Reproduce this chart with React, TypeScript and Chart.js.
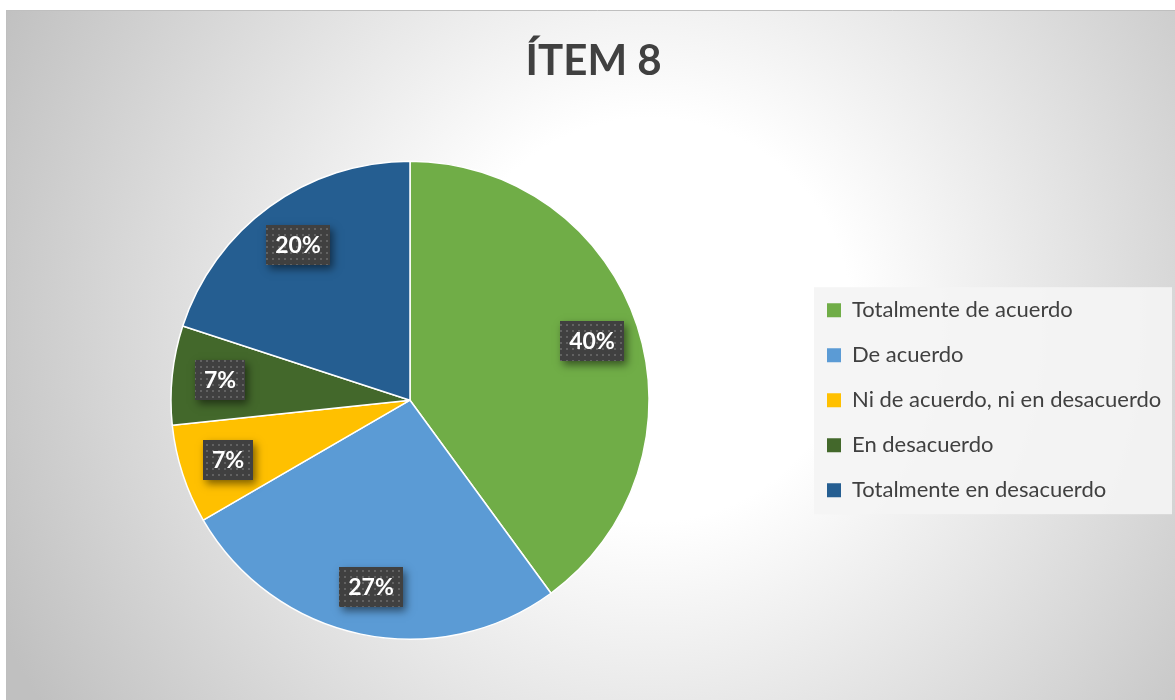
import React, { useEffect, useRef } from 'react';
import { Chart, registerables } from 'chart.js';

Chart.register(...registerables);

const chartTitle = 'ÍTEM 8';
const categories = [
  'Totalmente de acuerdo',
  'De acuerdo',
  'Ni de acuerdo, ni en desacuerdo',
  'En desacuerdo',
  'Totalmente en desacuerdo',
];
const percentValues = [40, 26.7, 6.7, 6.7, 20];
const sliceColors = ['#70AD47', '#5B9BD5', '#FFC000', '#43682B', '#255E91'];

const FONT = 'Lato, "Open Sans", sans-serif';
const CW = 1182;
const CH = 690;
const LEGEND_FS = 22;
const LEGEND_PAD = 23;
const LEGEND_BOX = 14;

function makePattern(ctx: CanvasRenderingContext2D) {
  const off = document.createElement('canvas');
  off.width = 6;
  off.height = 6;
  const o = off.getContext('2d')!;
  o.fillStyle = 'rgba(125,125,125,0.55)';
  o.fillRect(2, 2, 2, 2);
  return ctx.createPattern(off, 'repeat');
}

const bgPlugin = {
  id: 'bgPlugin',
  beforeDraw(chart: any) {
    const { ctx, width, height } = chart;
    ctx.save();
    const g = ctx.createRadialGradient(644, 310, 0, 644, 310, 720);
    g.addColorStop(0, '#ffffff');
    g.addColorStop(0.28, '#ffffff');
    g.addColorStop(1, '#c0c0c0');
    ctx.fillStyle = g;
    ctx.fillRect(0, 0, width, height);
    ctx.strokeStyle = '#bfbfbf';
    ctx.lineWidth = 1;
    ctx.beginPath();
    ctx.moveTo(0.5, height);
    ctx.lineTo(0.5, 0.5);
    ctx.lineTo(width, 0.5);
    ctx.stroke();
    const lg = chart.legend;
    if (lg) {
      const n = categories.length;
      const colH = n * (LEGEND_FS + LEGEND_PAD);
      const itemsTop = (lg.top + LEGEND_PAD + lg.bottom - colH) / 2;
      const x0 = lg.left + LEGEND_PAD - 13;
      const y0 = itemsTop - 12;
      const y1 = itemsTop + (n - 1) * (LEGEND_FS + LEGEND_PAD) + LEGEND_FS + 13;
      ctx.fillStyle = 'rgba(244,244,244,0.92)';
      ctx.fillRect(x0, y0, width - 16 - x0, y1 - y0);
    }
    ctx.restore();
  },
};

const labelPlugin = {
  id: 'sliceLabels',
  afterDatasetsDraw(chart: any) {
    const ctx: CanvasRenderingContext2D = chart.ctx;
    const meta = chart.getDatasetMeta(0);
    const data = chart.data.datasets[0].data as number[];
    const total = data.reduce((a, b) => a + b, 0);
    const pattern = makePattern(ctx);
    ctx.save();
    ctx.font = `bold 23px ${FONT}`;
    meta.data.forEach((arc: any, i: number) => {
      const p = arc.getProps(['x', 'y', 'startAngle', 'endAngle', 'outerRadius'], true);
      const mid = (p.startAngle + p.endAngle) / 2;
      const r = p.outerRadius * 0.8;
      const cx = p.x + Math.cos(mid) * r;
      const cy = p.y + Math.sin(mid) * r;
      const text = Math.round((data[i] / total) * 100) + '%';
      const tw = ctx.measureText(text).width;
      const bw = Math.round(tw + 18);
      const bh = 40;
      const bx = Math.round(cx - bw / 2);
      const by = Math.round(cy - bh / 2);
      ctx.save();
      ctx.shadowColor = 'rgba(0,0,0,0.5)';
      ctx.shadowBlur = 8;
      ctx.shadowOffsetX = 3;
      ctx.shadowOffsetY = 4;
      ctx.fillStyle = '#404040';
      ctx.fillRect(bx, by, bw, bh);
      ctx.restore();
      if (pattern) {
        ctx.fillStyle = pattern;
        ctx.fillRect(bx, by, bw, bh);
      }
      ctx.fillStyle = '#ffffff';
      ctx.textAlign = 'center';
      ctx.textBaseline = 'middle';
      ctx.fillText(text, bx + bw / 2, by + bh / 2 + 1);
    });
    ctx.restore();
  },
};

export default function App() {
  const ref = useRef<HTMLCanvasElement>(null);

  useEffect(() => {
    const canvas = ref.current;
    if (!canvas) return;
    const m = document.createElement('canvas').getContext('2d')!;
    m.font = `${LEGEND_FS}px ${FONT}`;
    const maxText = Math.max(...categories.map((c) => m.measureText(c).width));
    const legendWidth = LEGEND_PAD + LEGEND_BOX + LEGEND_FS / 2 + maxText + 10;
    const legendLeft = 798;
    const padRight = Math.max(0, CW - legendLeft - legendWidth);

    const baseGen =
      (Chart as any).overrides?.pie?.plugins?.legend?.labels?.generateLabels ||
      (Chart as any).overrides?.doughnut?.plugins?.legend?.labels?.generateLabels;

    const chart = new Chart(canvas, {
      type: 'pie',
      data: {
        labels: categories,
        datasets: [
          {
            data: percentValues,
            backgroundColor: sliceColors,
            borderColor: '#ffffff',
            borderWidth: 1.5,
            hoverOffset: 0,
          },
        ],
      },
      options: {
        animation: false,
        responsive: true,
        maintainAspectRatio: false,
        layout: { padding: { top: 0, bottom: 60, left: 10, right: padRight } },
        plugins: {
          title: {
            display: true,
            text: chartTitle,
            color: '#404040',
            font: { family: FONT, size: 42, weight: 'bold', lineHeight: 1.2 },
            padding: { top: 26, bottom: 74 },
          },
          legend: {
            display: true,
            position: 'right',
            align: 'center',
            fullSize: false,
            labels: {
              boxWidth: LEGEND_BOX,
              boxHeight: LEGEND_BOX,
              padding: LEGEND_PAD,
              color: '#404040',
              font: { family: FONT, size: LEGEND_FS },
              generateLabels: (ch: any) =>
                (baseGen ? baseGen(ch) : []).map((l: any) => ({
                  ...l,
                  lineWidth: 0,
                  strokeStyle: l.fillStyle,
                })),
            },
          },
          tooltip: { enabled: false },
        },
      } as any,
      plugins: [bgPlugin, labelPlugin],
    });
    return () => chart.destroy();
  }, []);

  return (
    <div style={{ position: 'absolute', left: 6, top: 10, width: 1169, height: CH, overflow: 'hidden' }}>
      <div style={{ position: 'relative', width: CW, height: CH }}>
        <canvas ref={ref} />
      </div>
    </div>
  );
}
